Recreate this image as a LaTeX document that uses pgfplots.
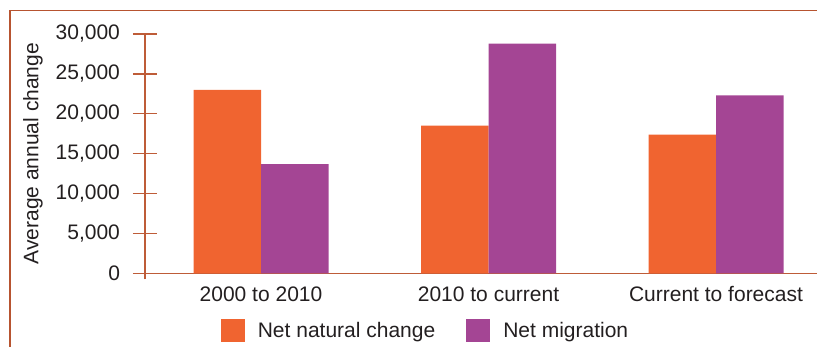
\documentclass[border=0pt]{standalone}
\usepackage{pgfplots}
\pgfplotsset{compat=1.18}
\usepackage{fontspec}
\setmainfont{Liberation Sans}

\definecolor{barorange}{RGB}{240,100,48}
\definecolor{barpurple}{RGB}{164,69,148}
\definecolor{axisbrown}{RGB}{190,92,56}
\definecolor{framebrown}{RGB}{183,84,48}
\definecolor{textgray}{RGB}{35,31,32}

\begin{document}
\begin{tikzpicture}[font=\fontsize{10.5}{12.6}\selectfont, text=textgray]
  % canvas: 1 px = 0.5pt, origin at bottom left
  \path[use as bounding box] (0,0) rectangle (408.5pt,173.5pt);
  \clip (0,0) rectangle (408.5pt,173.5pt);
  % outer frame (left and top edges)
  \draw[framebrown, line width=0.8pt] (5pt,-2pt) -- (5pt,168.3pt) -- (412pt,168.3pt);

  \begin{axis}[
    at={(72.5pt,36.85pt)}, anchor=south west,
    scale only axis, width=336pt, height=119.65pt,
    xmin=-0.51, xmax=2.444,
    ymin=0, ymax=30000,
    axis lines=left,
    axis line style={-, draw=axisbrown, line width=0.7pt},
    x axis line style={shorten <=-6pt, shorten >=-4pt},
    y axis line style={shorten <=-3pt},
    clip=false,
    ybar=0pt, bar width=33.75pt,
    xtick={0,1,2},
    xticklabels={2000 to 2010, 2010 to current, Current to forecast},
    xtick style={draw=none},
    xticklabel style={yshift=3pt, text=textgray},
    ytick={0,5000,10000,15000,20000,25000,30000},
    ytick style={draw=axisbrown, line width=0.7pt},
    tick align=center, major tick length=12pt,
    yticklabel style={text=textgray, xshift=-3pt},
    scaled y ticks=false,
    /pgf/number format/.cd, 1000 sep={,}, assume math mode=true,
    /pgfplots/.cd,
    ylabel={Average annual change},
    ylabel style={at={(axis description cs:-0.1667,0.5)}, anchor=center, rotate=0, text=textgray},
    legend columns=2,
    legend style={at={(axis description cs:0.4189,-0.241)}, anchor=center,
      draw=none, fill=none, inner sep=0pt,
      /tikz/every odd column/.append style={column sep=4.5pt},
      /tikz/every even column/.append style={column sep=13.5pt}},
    legend cell align=left,
    legend image code/.code={\fill[#1] (0pt,-5.75pt) rectangle (12pt,5.75pt);},
  ]
    \addplot[fill=barorange, draw=none] coordinates {(0,23000) (1,18500) (2,17400)};
    \addplot[fill=barpurple, draw=none] coordinates {(0,13700) (1,28800) (2,22300)};
    \legend{Net natural change, Net migration}
  \end{axis}
\end{tikzpicture}
\end{document}
